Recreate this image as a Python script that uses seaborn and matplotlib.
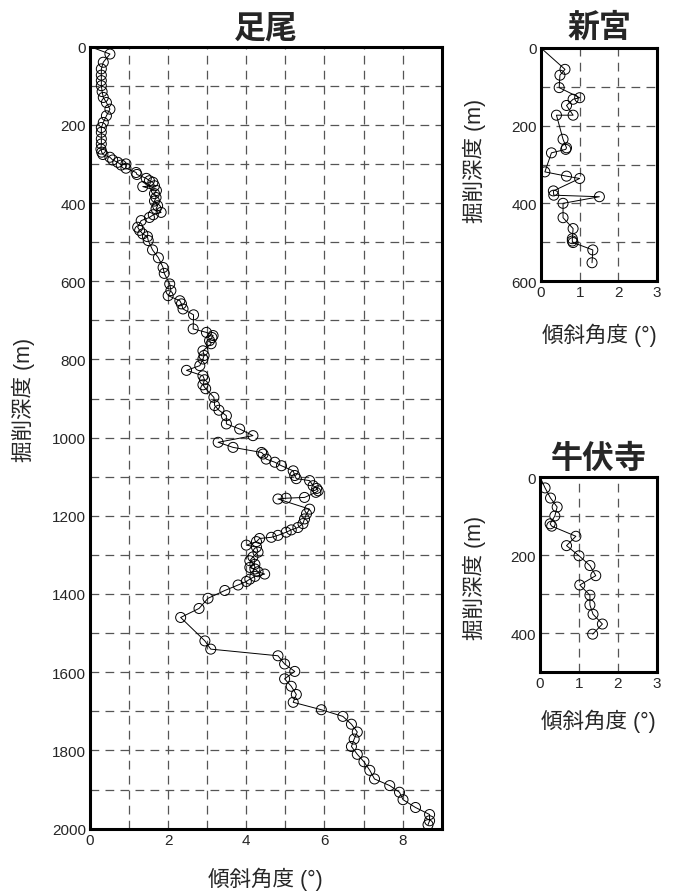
import numpy as np
import pandas as pd
import matplotlib
matplotlib.use("Agg")
import matplotlib.pyplot as plt
from matplotlib.ticker import MultipleLocator
import seaborn as sns

# 足尾 (depth m, tilt deg) -- first pair is the line start at the wellhead
ashio_depth = [0, 19, 40, 57, 73, 87, 100, 115, 130, 143, 160, 177, 194, 207, 219,
               236, 249, 262, 270, 276, 283, 290, 296, 303, 300, 311, 322, 327, 337,
               343, 347, 356, 358, 368, 376, 386, 395, 407, 415, 424, 430, 437, 445,
               462, 470, 479, 486, 496, 520, 540, 565, 580, 607, 624, 637, 650, 658,
               671, 686, 722, 731, 739, 744, 752, 760, 778, 790, 799, 816, 828, 842,
               852, 865, 875, 897, 918, 930, 944, 965, 978, 995, 1012, 1025, 1038,
               1042, 1055, 1063, 1072, 1085, 1097, 1105, 1110, 1123, 1130, 1136, 1140,
               1153, 1155, 1157, 1183, 1195, 1208, 1220, 1230, 1236, 1242, 1250, 1255,
               1258, 1266, 1275, 1280, 1293, 1305, 1315, 1324, 1332, 1336, 1343, 1349,
               1355, 1362, 1368, 1377, 1391, 1411, 1437, 1460, 1520, 1541, 1558, 1579,
               1598, 1617, 1636, 1657, 1677, 1696, 1713, 1733, 1753, 1771, 1790, 1810,
               1829, 1851, 1873, 1890, 1907, 1926, 1946, 1964, 1980, 1990]
ashio_angle = [0, 0.51, 0.34, 0.29, 0.29, 0.29, 0.29, 0.31, 0.34, 0.42, 0.51, 0.42, 0.34,
               0.29, 0.29, 0.29, 0.29, 0.28, 0.30, 0.33, 0.51, 0.58, 0.71, 0.80, 0.92,
               0.92, 1.18, 1.20, 1.44, 1.52, 1.61, 1.65, 1.35, 1.70, 1.65, 1.69, 1.65,
               1.73, 1.69, 1.82, 1.62, 1.52, 1.31, 1.22, 1.27, 1.35, 1.47, 1.49, 1.60,
               1.75, 1.87, 1.90, 2.04, 2.07, 2.00, 2.30, 2.34, 2.38, 2.65, 2.64, 2.98,
               3.15, 3.12, 3.06, 3.10, 2.89, 2.92, 2.89, 2.81, 2.47, 2.89, 2.93, 2.89,
               2.96, 3.17, 3.19, 3.30, 3.49, 3.49, 3.83, 4.17, 3.28, 3.66, 4.39, 4.43,
               4.51, 4.73, 4.90, 5.20, 5.24, 5.28, 5.62, 5.71, 5.80, 5.84, 5.78, 5.49,
               5.02, 4.81, 5.62, 5.54, 5.49, 5.45, 5.32, 5.15, 5.02, 4.81, 4.64, 4.34,
               4.26, 4.00, 4.26, 4.30, 4.17, 4.09, 4.22, 4.09, 4.22, 4.30, 4.47, 4.22,
               4.09, 4.00, 3.79, 3.45, 3.02, 2.79, 2.32, 2.94, 3.09, 4.81, 4.98, 5.24,
               4.98, 5.15, 5.28, 5.20, 5.92, 6.47, 6.69, 6.84, 6.76, 6.69, 6.84, 7.01,
               7.16, 7.28, 7.67, 7.92, 8.01, 8.33, 8.69, 8.69, 8.65]

# 新宮
shingu_depth = [0, 55, 70, 102, 128, 132, 148, 173, 173, 235, 257, 261, 270, 319, 330,
                336, 368, 379, 383, 400, 437, 465, 491, 497, 501, 520, 553]
shingu_angle = [0, 0.62, 0.49, 0.47, 1.00, 0.83, 0.66, 0.83, 0.40, 0.57, 0.66, 0.64,
                0.27, 0.10, 0.66, 1.00, 0.32, 0.33, 1.51, 0.57, 0.57, 0.83, 0.81, 0.81,
                0.83, 1.34, 1.32]

# 牛伏寺
gofukuji_depth = [0, 28, 54, 77, 100, 120, 126, 152, 176, 202, 227, 253, 277, 303, 328,
                  352, 377, 403]
gofukuji_angle = [0, 0.13, 0.27, 0.44, 0.38, 0.26, 0.30, 0.92, 0.68, 1.00, 1.28, 1.43,
                  1.02, 1.28, 1.28, 1.36, 1.60, 1.35]

sns.set_style("white")
plt.rcParams["font.family"] = ["Liberation Sans", "Noto Sans CJK JP", "DejaVu Sans"]

W, H = 673, 895
fig = plt.figure(figsize=(W / 100, H / 100), dpi=100)


def px_axes(left, top, right, bottom):
    return fig.add_axes([left / W, 1 - bottom / H, (right - left) / W, (bottom - top) / H])


def draw_well(ax, depth, angle, xmax, ymax, xmajor, title, title_pad, xlab_y, ylab_xy):
    df = pd.DataFrame({"depth": depth, "angle": angle})
    sns.lineplot(data=df, x="angle", y="depth", sort=False, estimator=None,
                 color="black", lw=0.7, ax=ax, zorder=3)
    sns.scatterplot(data=df.iloc[1:], x="angle", y="depth", marker="o", s=52,
                    facecolors="none", edgecolor="black", linewidth=0.7, ax=ax, zorder=4)
    ax.set_xlim(0, xmax)
    ax.set_ylim(ymax, 0)
    ax.xaxis.set_major_locator(MultipleLocator(xmajor))
    ax.xaxis.set_minor_locator(MultipleLocator(1))
    ax.yaxis.set_major_locator(MultipleLocator(200))
    ax.yaxis.set_minor_locator(MultipleLocator(100))
    ax.grid(True, which="both", color="#555555", lw=0.9, ls=(0, (7, 5)))
    ax.set_axisbelow(True)
    ax.tick_params(which="both", length=0, labelsize=11, pad=3)
    for s in ax.spines.values():
        s.set_linewidth(2.2)
        s.set_color("black")
    ax.set_xlabel("傾斜角度 (°)", fontsize=15.5, va="center")
    ax.set_ylabel("掘削深度 (m)", fontsize=15.5, va="center")
    ax.xaxis.set_label_coords(0.5, xlab_y)
    ax.yaxis.set_label_coords(*ylab_xy)
    ax.set_title(title, fontsize=23, fontweight="bold", pad=title_pad)


ax_main = px_axes(90, 47.6, 441.7, 829.6)
draw_well(ax_main, ashio_depth, ashio_angle, 9, 2000, 2, "足尾", 7,
          -0.064, (-0.19, 0.55))

ax_s = px_axes(541, 49, 657, 282)
draw_well(ax_s, shingu_depth, shingu_angle, 3, 600, 1, "新宮", 9,
          -0.23, (-0.57, 0.52))

ax_g = px_axes(540, 478, 657, 673)
draw_well(ax_g, gofukuji_depth, gofukuji_angle, 3, 500, 1, "牛伏寺", 7,
          -0.25, (-0.56, 0.49))

fig.savefig("out.png", dpi=100)
